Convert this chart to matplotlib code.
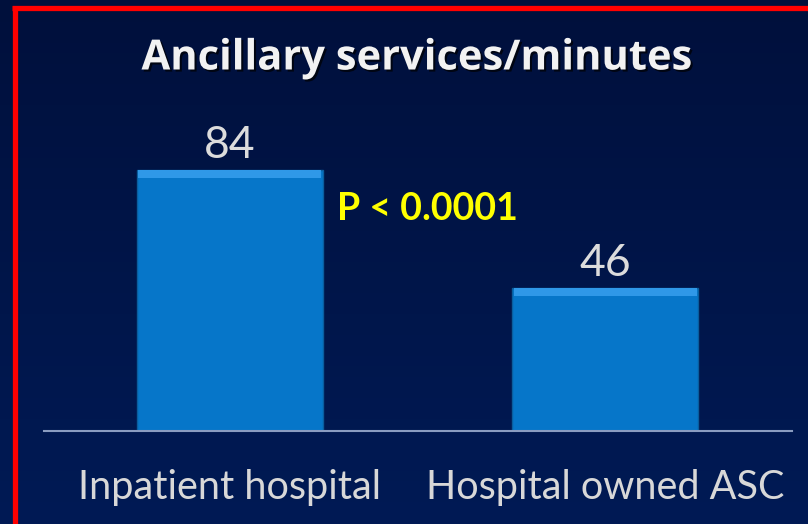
import numpy as np
import matplotlib
matplotlib.use("Agg")
import matplotlib.pyplot as plt
import matplotlib.patheffects as pe
from matplotlib.colors import LinearSegmentedColormap

# --------------------------------------------------
# Data
# --------------------------------------------------
categories = ["Inpatient hospital", "Hospital owned ASC"]
values = [84, 46]
p_label = "P < 0.0001"
title = "Ancillary services/minutes"

W, H = 808, 524
fig = plt.figure(figsize=(W / 100, H / 100), dpi=100)

# --------------------------------------------------
# Background slide (gradient + red frame)
# --------------------------------------------------
bg = fig.add_axes([0, 0, 1, 1])
bg.set_axis_off()
navy = LinearSegmentedColormap.from_list("navy", ["#00103c", "#001a55"])
grad = np.linspace(0, 1, 256).reshape(-1, 1)
bg.imshow(grad, cmap=navy, aspect="auto", extent=[0, W, H, 0])
bg.set_xlim(0, W)
bg.set_ylim(H, 0)
bg.plot([12, W], [7.5, 7.5], color="#ff0000", lw=3.8, solid_capstyle="butt")
bg.plot([14.5, 14.5], [5.6, H], color="#ff0000", lw=3.8, solid_capstyle="butt")

bg.text(417, 59, title, ha="center", va="center", color="#f2f2f2",
        fontsize=30, fontweight="bold", family="Open Sans",
        path_effects=[pe.withSimplePatchShadow(offset=(1.5, -1.5),
                                               shadow_rgbFace="black", alpha=0.7)])

# --------------------------------------------------
# Bar chart
# --------------------------------------------------
ax = fig.add_axes([44 / W, (H - 431) / H, 748 / W, 311 / H])
ax.set_facecolor("none")
x = np.arange(len(values))
bw = 0.495
ax.bar(x, values, width=bw, color="#0676c9", edgecolor="#0a5e9e", lw=1, zorder=2)
bevel = 2.6
ax.bar(x, [bevel] * len(values), bottom=[v - bevel for v in values], width=bw * 0.985,
       color="#2f98e8", lw=0, zorder=3)

for xi, v in zip(x, values):
    ax.annotate(str(v), (xi, v), xytext=(0, 3), textcoords="offset points",
                ha="center", va="bottom", color="#dcdcdc", fontsize=32, family="Lato")

ax.text(0.286, 71.5, p_label, color="#ffff00", fontsize=27, fontweight="bold",
        family="Lato", ha="left", va="center")

ax.set_xlim(-0.495, 1.497)
ax.set_ylim(0, 100)
for s in ["top", "right", "left"]:
    ax.spines[s].set_visible(False)
ax.spines["bottom"].set_color("#8a9cc0")
ax.spines["bottom"].set_linewidth(1.5)
ax.set_yticks([])
ax.set_xticks(x)
ax.set_xticklabels(categories, color="#d8d8d8", fontsize=28.5, family="Lato")
ax.tick_params(axis="x", length=0, pad=27)

fig.savefig("out.png", dpi=100)
